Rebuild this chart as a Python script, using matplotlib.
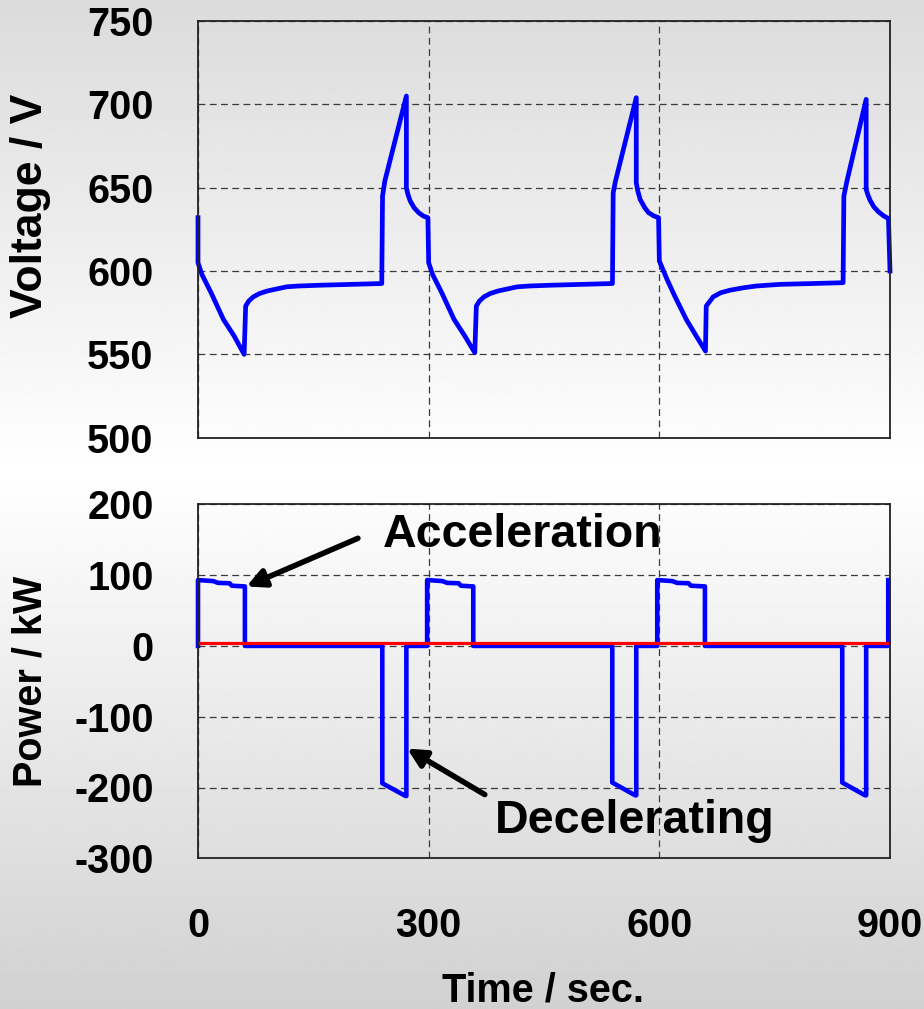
import numpy as np
import matplotlib
matplotlib.use("Agg")
import matplotlib.pyplot as plt

# ---------------- data ----------------
time_v = [0, 0, 5, 17, 33, 47, 60, 62, 66, 72, 80, 90, 100, 115, 130, 160, 200, 239, 240, 243, 271, 271, 273, 276, 281, 287, 293, 299,
          300, 305, 317, 333, 347, 360, 362, 366, 372, 380, 390, 400, 415, 430, 460, 500, 539, 540, 543, 570, 570, 572, 575, 581, 586, 593, 599,
          600, 610, 620, 635, 648, 660, 661, 670, 680, 692, 710, 726, 757, 800, 839, 840, 844, 869, 869, 871, 874, 879, 885, 892, 898, 900]
voltage = [632, 605, 598, 587, 571, 561, 550, 579, 582, 584.5, 586.5, 588, 589, 590.5, 591, 591.5, 592, 592.5, 645, 654, 705, 650, 646, 642, 638, 635, 633, 632,
           605, 598, 587, 571, 561, 551, 579, 582, 584.5, 586.5, 588, 589, 590.5, 591, 591.5, 592, 592.5, 647, 654, 704, 653, 648, 643, 638, 635, 633, 632,
           606, 595, 585, 571, 561, 552, 579, 584.5, 587, 588.5, 590, 591, 592, 592.5, 593, 645, 654, 703, 649, 646, 642.5, 638.5, 635.5, 633, 631.5, 600]

time_p = [0, 0, 20, 26, 41, 44, 61, 61, 239.7, 239.7, 270, 271, 271,
          298, 298, 318, 324, 339, 342, 358, 358, 538.8, 538.8, 568.5, 570, 570,
          597.3, 597.3, 617, 623, 638, 641, 659.3, 659.3, 837.9, 837.9, 867.5, 869, 869,
          897.7, 897.7]
power = [0, 93, 91.5, 89, 88.5, 85, 84, 0, 0, -194, -212, -212, 0,
         0, 93, 91.5, 89, 88.5, 85, 84, 0, 0, -193, -211, -211, 0,
         0, 93, 91.5, 89, 88.5, 85, 84, 0, 0, -193, -211, -211, 0,
         0, 93]

ref_t = [0, 900]
ref_p = [3.5, 3.5]

volt_ticks = [500, 550, 600, 650, 700, 750]
power_ticks = [-300, -200, -100, 0, 100, 200]
time_ticks = [0, 300, 600, 900]

FONT = "Liberation Sans"

W, H = 924, 1009
fig = plt.figure(figsize=(W / 100, H / 100), dpi=100)

# background gradient
bg = fig.add_axes([0, 0, 1, 1], zorder=-10)
rows = np.linspace(0, 1, 400)
vals = np.interp(rows, [0, 0.47, 1.0], [0.86, 1.0, 0.82])
img = np.repeat(vals[:, None], 2, axis=1)
bg.imshow(img, cmap="gray", vmin=0, vmax=1, aspect="auto", extent=[0, 1, 0, 1], origin="upper")
bg.axis("off")


def px_to_fig(x0, y0, x1, y1):
    return [x0 / W, 1 - y1 / H, (x1 - x0) / W, (y1 - y0) / H]


ax1 = fig.add_axes(px_to_fig(198, 21, 890, 437.7))
ax2 = fig.add_axes(px_to_fig(198, 504.3, 890, 858.3))

for ax in (ax1, ax2):
    ax.set_facecolor("none")
    ax.set_xlim(0, 900)
    ax.set_xticks(time_ticks)
    ax.grid(True, linestyle=(0, (5.5, 3.5)), color="#3a3a3a", linewidth=0.9)
    ax.set_axisbelow(True)
    for s in ax.spines.values():
        s.set_color("#222222")
        s.set_linewidth(1.3)
    ax.tick_params(axis="y", length=0, pad=32)
    ax.tick_params(axis="x", length=0, pad=35)

ax1.set_ylim(500, 750)
ax1.set_yticks(volt_ticks)
ax1.set_yticklabels([str(v) for v in volt_ticks], fontsize=28.5, fontweight="bold", family=FONT)
ax1.set_xticklabels([])
ax1.plot(time_v, voltage, color="#0000ff", lw=3.4, solid_joinstyle="round", clip_on=False)

ax2.set_ylim(-300, 200)
ax2.set_yticks(power_ticks)
ax2.set_yticklabels([str(v) for v in power_ticks], fontsize=28.5, fontweight="bold", family=FONT)
ax2.set_xticklabels([str(v) for v in time_ticks], fontsize=28.5, fontweight="bold", family=FONT)
ax2.plot(time_p, power, color="#0000ff", lw=3.3, solid_joinstyle="round", clip_on=False)
ax2.plot(ref_t, ref_p, color="#ff0000", lw=2.3)

arrow_kw = dict(arrowstyle="-|>,head_length=1.1,head_width=0.55", lw=4.0, color="black",
                shrinkA=0, shrinkB=0)
ax2.annotate("", xy=(63, 84), xytext=(208, 152), arrowprops=arrow_kw)
ax2.annotate("", xy=(272, -145), xytext=(373, -210), arrowprops=arrow_kw)
ax2.text(422, 140, "Acceleration", ha="center", va="baseline", fontsize=33.5,
         fontweight="bold", family=FONT)
ax2.text(568, -264, "Decelerating", ha="center", va="baseline", fontsize=33.5,
         fontweight="bold", family=FONT)

fig.text(31 / W, 1 - 206 / H, "Voltage / V", rotation=90, ha="center", va="center",
         fontsize=32, fontweight="bold", family=FONT)
fig.text(31 / W, 1 - 681 / H, "Power / kW", rotation=90, ha="center", va="center",
         fontsize=28.5, fontweight="bold", family=FONT)
fig.text(543 / W, 1 - 991 / H, "Time / sec.", ha="center", va="center",
         fontsize=28.5, fontweight="bold", family=FONT)

fig.savefig("out.png", dpi=100)
